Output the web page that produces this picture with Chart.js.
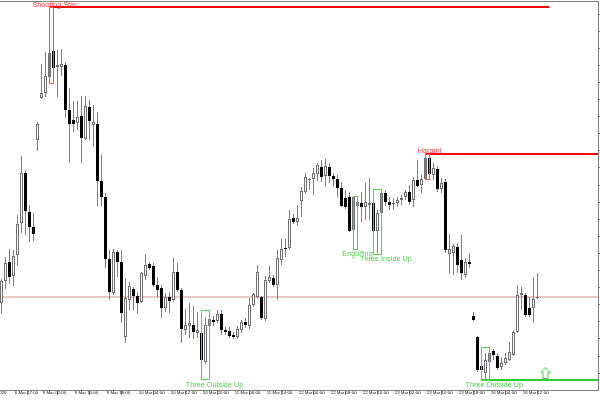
<!DOCTYPE html>
<html><head><meta charset="utf-8">
<script src="https://cdn.jsdelivr.net/npm/chart.js@4/dist/chart.umd.min.js"></script>
<style>html,body{margin:0;padding:0;background:#fff;overflow:hidden}canvas{display:block}</style>
</head><body>
<canvas id="c" width="600" height="400"></canvas>
<script>
const opens = [1.1087,1.1109,1.1128,1.1114,1.1135,1.1167,1.1217,1.1178,1.1163,1.1250,
 1.1292,1.1297,1.1313,1.1339,1.1323,1.1323,1.1325,1.1280,1.1270,1.1267,
 1.1274,1.1251,1.1283,1.1265,1.1266,1.1209,1.1193,1.1131,1.1097,1.1138,
 1.1128,1.1053,1.1090,1.1101,1.1094,1.1088,1.1114,1.1126,1.1124,1.1105,
 1.1102,1.1082,1.1093,1.1090,1.1118,1.1100,1.1060,1.1064,1.1065,1.1057,
 1.1057,1.1028,1.1064,1.1070,1.1069,1.1076,1.1060,1.1059,1.1055,1.1053,
 1.1060,1.1068,1.1064,1.1085,1.1093,1.1093,1.1071,1.1109,1.1112,1.1105,
 1.1130,1.1142,1.1142,1.1172,1.1168,1.1189,1.1198,1.1210,1.1211,1.1216,
 1.1223,1.1214,1.1223,1.1214,1.1211,1.1202,1.1192,1.1193,1.1160,1.1184,
 1.1187,1.1183,1.1185,1.1187,1.1159,1.1177,1.1197,1.1188,1.1186,1.1187,
 1.1190,1.1193,1.1198,1.1190,1.1210,1.1205,1.1211,1.1232,1.1215,1.1221,
 1.1201,1.1208,1.1136,1.1137,1.1143,1.1130,1.1115,1.1128,1.1074,1.1053,
 1.1024,1.1017,1.1028,1.1039,1.1034,1.1023,1.1027,1.1030,1.1035,1.1058,
 1.1095,1.1095,1.1082,1.1082,1.1092];
const highs = [1.1111,1.1133,1.1141,1.1140,1.1175,1.1234,1.1220,1.1185,1.1177,1.1268,
 1.1326,1.1338,1.1347,1.1383,1.1340,1.1341,1.1328,1.1302,1.1289,1.1289,
 1.1294,1.1294,1.1290,1.1285,1.1278,1.1235,1.1197,1.1140,1.1141,1.1140,
 1.1140,1.1112,1.1108,1.1103,1.1098,1.1118,1.1136,1.1128,1.1127,1.1113,
 1.1105,1.1097,1.1098,1.1132,1.1127,1.1102,1.1081,1.1087,1.1084,1.1078,
 1.1060,1.1073,1.1079,1.1074,1.1080,1.1080,1.1063,1.1063,1.1058,1.1064,
 1.1070,1.1072,1.1092,1.1097,1.1125,1.1094,1.1114,1.1124,1.1115,1.1140,
 1.1151,1.1151,1.1180,1.1176,1.1185,1.1203,1.1217,1.1212,1.1222,1.1227,
 1.1230,1.1231,1.1227,1.1217,1.1215,1.1208,1.1200,1.1198,1.1194,1.1190,
 1.1198,1.1207,1.1212,1.1190,1.1180,1.1201,1.1200,1.1193,1.1192,1.1193,
 1.1195,1.1200,1.1205,1.1213,1.1230,1.1215,1.1236,1.1235,1.1227,1.1224,
 1.1212,1.1211,1.1156,1.1146,1.1147,1.1155,1.1132,1.1137,1.1078,1.1054,
 1.1030,1.1037,1.1042,1.1041,1.1037,1.1033,1.1037,1.1048,1.1060,1.1105,
 1.1103,1.1097,1.1093,1.1113,1.1117];
const lows = [1.1076,1.1101,1.1106,1.1104,1.1124,1.1157,1.1155,1.1148,1.1149,1.1239,
 1.1291,1.1293,1.1307,1.1313,1.1293,1.1314,1.1272,1.1227,1.1258,1.1260,
 1.1227,1.1250,1.1250,1.1243,1.1184,1.1184,1.1122,1.1090,1.1095,1.1113,
 1.1067,1.1047,1.1080,1.1080,1.1076,1.1087,1.1110,1.1120,1.1103,1.1093,
 1.1072,1.1078,1.1077,1.1088,1.1098,1.1047,1.1055,1.1052,1.1051,1.1052,
 1.1011,1.1026,1.1062,1.1064,1.1067,1.1055,1.1055,1.1052,1.1051,1.1051,
 1.1057,1.1062,1.1061,1.1083,1.1091,1.1070,1.1069,1.1107,1.1103,1.1090,
 1.1125,1.1133,1.1140,1.1166,1.1164,1.1173,1.1196,1.1200,1.1195,1.1209,
 1.1208,1.1203,1.1207,1.1203,1.1193,1.1183,1.1181,1.1158,1.1141,1.1176,
 1.1168,1.1170,1.1170,1.1157,1.1137,1.1175,1.1184,1.1180,1.1180,1.1183,
 1.1185,1.1190,1.1185,1.1183,1.1203,1.1197,1.1210,1.1211,1.1210,1.1198,
 1.1197,1.1137,1.1116,1.1115,1.1117,1.1110,1.1112,1.1122,1.1069,1.1018,
 1.1010,1.1010,1.1027,1.1030,1.1020,1.1020,1.1025,1.1029,1.1034,1.1057,
 1.1080,1.1073,1.1073,1.1067,1.1091];
const closes = [1.1109,1.1127,1.1113,1.1134,1.1166,1.1217,1.1179,1.1163,1.1156,1.1266,
 1.1297,1.1314,1.1337,1.1322,1.1325,1.1326,1.1280,1.1266,1.1266,1.1273,
 1.1252,1.1284,1.1269,1.1268,1.1209,1.1193,1.1131,1.1098,1.1138,1.1128,
 1.1077,1.1092,1.1104,1.1094,1.1087,1.1117,1.1125,1.1122,1.1105,1.1100,
 1.1082,1.1093,1.1089,1.1118,1.1100,1.1061,1.1065,1.1067,1.1058,1.1060,
 1.1030,1.1065,1.1071,1.1068,1.1076,1.1060,1.1058,1.1054,1.1053,1.1061,
 1.1068,1.1065,1.1085,1.1096,1.1118,1.1072,1.1110,1.1113,1.1105,1.1132,
 1.1141,1.1141,1.1171,1.1168,1.1172,1.1199,1.1213,1.1211,1.1217,1.1225,
 1.1213,1.1224,1.1214,1.1211,1.1202,1.1184,1.1183,1.1159,1.1193,1.1188,
 1.1183,1.1188,1.1187,1.1159,1.1177,1.1197,1.1188,1.1185,1.1187,1.1190,
 1.1192,1.1198,1.1188,1.1210,1.1204,1.1211,1.1232,1.1216,1.1222,1.1201,
 1.1207,1.1140,1.1141,1.1144,1.1125,1.1117,1.1128,1.1126,1.1070,1.1020,
 1.1020,1.1030,1.1037,1.1035,1.1022,1.1027,1.1032,1.1038,1.1058,1.1095,
 1.1097,1.1075,1.1075,1.1091,1.1093];

const xTickIndex = [-4.6, 3, 10, 18, 26, 34, 42, 50, 58, 66, 74, 82, 90, 98, 106, 114, 122, 130];
const xTickLabels = ['6 Mar 2026','6 Mar 17:00','9 Mar 02:00','9 Mar 10:00','9 Mar 18:00','10 Mar 04:00',
  '10 Mar 12:00','10 Mar 20:00','11 Mar 06:00','11 Mar 14:00','12 Mar 00:00','12 Mar 08:00',
  '12 Mar 16:00','13 Mar 02:00','13 Mar 10:00','13 Mar 18:00','16 Mar 04:00','16 Mar 12:00'];
const yTickValues = [1.1376,1.13589,1.13418,1.13247,1.13076,1.12905,1.12734,1.12563,1.12392,1.12221,
  1.1205,1.11879,1.11708,1.11537,1.11366,1.11195,1.11024,1.10853,1.10682,1.10511,1.1034,1.10169];

const patternNames  = ['Shooting Star','Engulfing','Three Inside Up','Harami','Three Outside Up','Three Outside Up'];
const patternBullish = [false, true, true, false, true, true];
const patternFrom   = [12, 88, 93, 106, 50, 120];
const patternTo     = [13, 89, 95, 107, 52, 122];
const patternHigh   = [1.13825, 1.11935, 1.12005, 1.12355, 1.10795, 1.10425];
const patternLow    = [1.13065, 1.11405, 1.11355, 1.12105, 1.10105, 1.10095];
const labelIndex    = [13.25, 89, 96.1, 107, 53.25, 123.2];
const labelPrice    = [1.1383, 1.1134, 1.1129, 1.1237, 1.10035, 1.1003];

const levelFrom  = [12, 106, 120];
const levelTo    = [137, 149.125, 149.125];
const levelPrice = [1.1383, 1.1236, 1.1010];
const levelBullish = [false, false, true];

const arrowIndex = 136;
const arrowPrice = 1.1017;
const bidPrice = closes[closes.length - 1];

const X_MIN = -0.375, X_MAX = 149.125;
const Y_MIN = 1.1000, Y_MAX = 1.1389;

const RED = '#ff0000', RED_BOX = '#f25050';
const GREEN = '#32cd32', GREEN_BOX = '#4fd24f', GREEN_TEXT = '#4fcf4f';

const idx = opens.map((_, i) => i);
const bull = idx.map(i => closes[i] >= opens[i]);

const datasets = [];
// candle bodies
datasets.push({
  type: 'bar', order: 1, grouped: false,
  data: idx.map(i => ({x: i, y: [opens[i], closes[i]]})),
  backgroundColor: bull.map(b => b ? '#ffffff' : '#000000'),
  borderColor: bull.map(b => b ? '#707070' : '#000000'),
  borderWidth: 1, borderSkipped: false, barThickness: 3, minBarLength: 1, inflateAmount: 0
});
// candle wicks
datasets.push({
  type: 'bar', order: 2, grouped: false,
  data: idx.map(i => ({x: i, y: [lows[i], highs[i]]})),
  backgroundColor: '#808080', borderWidth: 0, barThickness: 1, inflateAmount: 0
});
// pattern boxes (drawn above candles)
patternNames.forEach((n, k) => {
  const a = patternFrom[k], b = patternTo[k], hi = patternHigh[k], lo = patternLow[k];
  datasets.push({
    type: 'line', order: 0,
    data: [{x:a,y:hi},{x:b,y:hi},{x:b,y:lo},{x:a,y:lo},{x:a,y:hi}],
    borderColor: patternBullish[k] ? GREEN_BOX : RED_BOX, borderWidth: 1,
    pointRadius: 0, fill: false, tension: 0
  });
});
// level lines
levelPrice.forEach((p, k) => {
  datasets.push({
    type: 'line', order: 3,
    data: [{x: levelFrom[k], y: p}, {x: levelTo[k], y: p}],
    borderColor: levelBullish[k] ? GREEN : RED, borderWidth: 2,
    pointRadius: 0, fill: false
  });
});
// bid line
datasets.push({
  type: 'line', order: 4,
  data: [{x: X_MIN, y: bidPrice}, {x: X_MAX, y: bidPrice}],
  borderColor: '#d09090', borderWidth: 1, pointRadius: 0, fill: false
});
// up arrow mark
const arrowCanvas = document.createElement('canvas');
arrowCanvas.width = 10; arrowCanvas.height = 12;
(function(){
  const g = arrowCanvas.getContext('2d');
  g.strokeStyle = '#44cc44'; g.lineWidth = 1;
  g.beginPath();
  g.moveTo(5, 0.5); g.lineTo(9.5, 5.5); g.lineTo(7.5, 5.5); g.lineTo(7.5, 11.5);
  g.lineTo(2.5, 11.5); g.lineTo(2.5, 5.5); g.lineTo(0.5, 5.5); g.closePath();
  g.stroke();
})();
datasets.push({
  type: 'line', order: 0, showLine: false,
  data: [{x: arrowIndex, y: arrowPrice}],
  pointStyle: arrowCanvas, pointRadius: 6
});

const labelPlugin = {
  id: 'patternLabels',
  afterDatasetsDraw(chart) {
    const {ctx, scales: {x, y}} = chart;
    ctx.save();
    ctx.font = '7.3px "Liberation Sans", Arial, sans-serif';
    ctx.textAlign = 'center';
    ctx.textBaseline = 'alphabetic';
    patternNames.forEach((n, k) => {
      ctx.fillStyle = patternBullish[k] ? GREEN_TEXT : '#ff3a3a';
      ctx.fillText(n, x.getPixelForValue(labelIndex[k]), y.getPixelForValue(labelPrice[k]));
    });
    ctx.restore();
  }
};

new Chart(document.getElementById('c'), {
  type: 'bar',
  data: { datasets },
  options: {
    responsive: false, animation: false, devicePixelRatio: 1,
    layout: { padding: 0, autoPadding: false },
    plugins: { legend: { display: false }, tooltip: { enabled: false } },
    scales: {
      x: {
        type: 'linear', position: 'bottom', min: X_MIN, max: X_MAX, offset: false,
        afterBuildTicks: s => { s.ticks = xTickIndex.map(v => ({ value: v })); },
        afterFit: s => { s.height = 10; s.paddingLeft = 0; s.paddingRight = 0; },
        ticks: {
          autoSkip: false, maxRotation: 0, minRotation: 0, align: 'start', padding: -5,
          color: '#111', font: { family: '"Liberation Sans", Arial', size: 4.4 },
          callback: (v, i) => ' ' + xTickLabels[i]
        },
        grid: { drawOnChartArea: false, tickLength: 5, color: '#808080' },
        border: { color: '#808080' }
      },
      xTop: {
        type: 'linear', position: 'top', min: X_MIN, max: X_MAX,
        afterFit: s => { s.height = 1; s.paddingLeft = 0; s.paddingRight = 0; },
        ticks: { display: false }, grid: { display: false },
        border: { display: true, color: '#808080' }
      },
      y: {
        type: 'linear', position: 'right', min: Y_MIN, max: Y_MAX, beginAtZero: false,
        afterBuildTicks: s => { s.ticks = yTickValues.map(v => ({ value: v })); },
        afterFit: s => { s.width = 2; s.paddingTop = 0; s.paddingBottom = 0; },
        ticks: { display: false },
        grid: { drawOnChartArea: false, tickLength: 2, color: '#808080' },
        border: { color: '#808080' }
      }
    }
  },
  plugins: [labelPlugin]
});
</script>
</body></html>
